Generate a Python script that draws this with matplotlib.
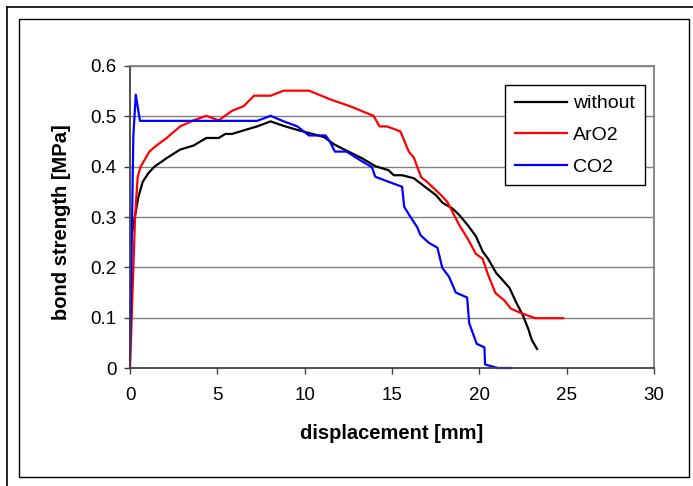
import matplotlib
matplotlib.use('Agg')
from matplotlib import pyplot as plt
from matplotlib.lines import Line2D

# values (displacement in mm, bond strength in MPa)
disp_without = [0.12, 0.48, 0.73, 1.05, 1.4, 2.1, 2.87, 3.64, 4.37, 5.08, 5.46, 5.84, 6.5, 7.28,
                8.05, 8.8, 9.58, 10.34, 11.1, 11.7, 12.5, 13.27, 14.04, 14.8, 15.1, 15.58, 16.25,
                17.0, 17.5, 17.9, 18.46, 18.85, 19.33, 19.8, 20.2, 20.5, 20.96, 21.35, 21.73,
                22.1, 22.5, 22.8, 23.0, 23.3]
bond_without = [0.27, 0.34, 0.37, 0.387, 0.40, 0.417, 0.434, 0.442, 0.457, 0.457, 0.465, 0.465,
                0.472, 0.48, 0.49, 0.481, 0.473, 0.466, 0.459, 0.444, 0.430, 0.417, 0.401, 0.393,
                0.383, 0.383, 0.377, 0.357, 0.344, 0.328, 0.317, 0.304, 0.284, 0.262, 0.231,
                0.217, 0.189, 0.174, 0.159, 0.131, 0.104, 0.078, 0.056, 0.038]

disp_aro2 = [0, 0.29, 0.44, 0.61, 1.11, 1.44, 2.1, 2.87, 3.64, 4.37, 5.08, 5.84, 6.5, 7.1, 8.05,
             8.8, 10.25, 11.44, 12.6, 13.94, 14.29, 14.71, 15.48, 15.96, 16.25, 16.67, 17.0,
             17.79, 18.17, 18.85, 19.33, 19.8, 20.19, 20.48, 20.92, 21.44, 21.8, 22.4, 23.2, 24.8]
bond_aro2 = [0, 0.30, 0.38, 0.40, 0.43, 0.44, 0.457, 0.48, 0.492, 0.501, 0.492, 0.511, 0.52,
             0.541, 0.541, 0.551, 0.551, 0.534, 0.52, 0.501, 0.48, 0.48, 0.47, 0.43, 0.418,
             0.379, 0.37, 0.344, 0.330, 0.284, 0.257, 0.227, 0.217, 0.187, 0.149, 0.134, 0.118,
             0.109, 0.099, 0.099]

disp_co2 = [0, 0.19, 0.33, 0.57, 1.34, 2.11, 2.87, 3.64, 4.37, 5.08, 5.84, 6.61, 7.28, 8.05,
            8.8, 9.58, 10.25, 11.2, 11.44, 11.73, 12.4, 13.17, 13.85, 14.04, 14.8, 15.58, 15.7,
            16.06, 16.44, 16.63, 17.1, 17.6, 17.88, 18.27, 18.65, 19.3, 19.42, 19.85, 20.29,
            20.33, 21.06, 21.8]
bond_co2 = [0.017, 0.46, 0.543, 0.491, 0.491, 0.491, 0.491, 0.491, 0.491, 0.491, 0.491, 0.491,
            0.491, 0.501, 0.49, 0.48, 0.462, 0.462, 0.45, 0.43, 0.43, 0.413, 0.399, 0.38, 0.37,
            0.36, 0.32, 0.30, 0.28, 0.264, 0.249, 0.239, 0.199, 0.181, 0.150, 0.14, 0.089,
            0.048, 0.041, 0.007, 0, 0]

series_names = ['without', 'ArO2', 'CO2']
series_colors = ['#000000', '#ff0000', '#0000ff']

x_ticks = [0, 5, 10, 15, 20, 25, 30]
y_ticks = [0, 0.1, 0.2, 0.3, 0.4, 0.5, 0.6]
y_tick_labels = ['0', '0.1', '0.2', '0.3', '0.4', '0.5', '0.6']

plt.rcParams['font.family'] = ['Liberation Sans', 'DejaVu Sans']

W, H = 693, 486
fig = plt.figure(figsize=(W / 100, H / 100), dpi=100)

# frames around the chart (pixel coords -> figure fraction)
def fx(px):
    return px / W

def fy(py):
    return 1 - py / H

fig.add_artist(Line2D([fx(7), fx(W + 5)], [fy(7), fy(7)], color='black', lw=1.2))
fig.add_artist(Line2D([fx(7), fx(7)], [fy(7), fy(H + 5)], color='black', lw=1.2))
fig.add_artist(plt.Rectangle((fx(19), fy(477)), fx(689) - fx(19), fy(19) - fy(477),
                             fill=False, edgecolor='black', lw=1.0))

ax = fig.add_axes([fx(130), fy(368), fx(654) - fx(130), fy(66) - fy(368)])

lines = []
for xs, ys, name, col in [(disp_without, bond_without, series_names[0], series_colors[0]),
                          (disp_aro2, bond_aro2, series_names[1], series_colors[1]),
                          (disp_co2, bond_co2, series_names[2], series_colors[2])]:
    l, = ax.plot(xs, ys, color=col, lw=1.6, label=name, clip_on=False)
    lines.append(l)

ax.set_xlim(0, 30)
ax.set_ylim(0, 0.6)
ax.set_xticks(x_ticks)
ax.set_yticks(y_ticks)
ax.set_yticklabels(y_tick_labels)
ax.yaxis.grid(True, color='#808080', lw=1.0)
ax.set_axisbelow(True)

for side in ['top', 'right']:
    ax.spines[side].set_color('#808080')
    ax.spines[side].set_linewidth(1.3)
ax.spines['left'].set_color('#404040')
ax.spines['bottom'].set_color('#404040')
ax.spines['left'].set_linewidth(1.3)
ax.spines['bottom'].set_linewidth(1.3)

ax.tick_params(axis='both', direction='out', length=4.5, width=1.0, color='#404040',
               labelsize=13.5)
ax.tick_params(axis='x', pad=9)
ax.tick_params(axis='y', pad=5)

ax.set_xlabel('displacement [mm]', fontsize=14.5, fontweight='bold')
ax.set_ylabel('bond strength [MPa]', fontsize=14.5, fontweight='bold')
ax.xaxis.set_label_coords(0.5, -0.185)
ax.xaxis.label.set_va('top')
ax.yaxis.set_label_coords(-0.112, 0.483)

leg = ax.legend(handles=lines, loc='upper left', bbox_to_anchor=(fx(505), fy(85)),
                bbox_transform=fig.transFigure, borderaxespad=0, fontsize=14,
                frameon=True, fancybox=False, framealpha=1, edgecolor='black',
                handlelength=2.7, handletextpad=0.3, labelspacing=0.72, borderpad=0.5)
leg.get_frame().set_linewidth(1.0)

fig.savefig('out.png', dpi=100)
